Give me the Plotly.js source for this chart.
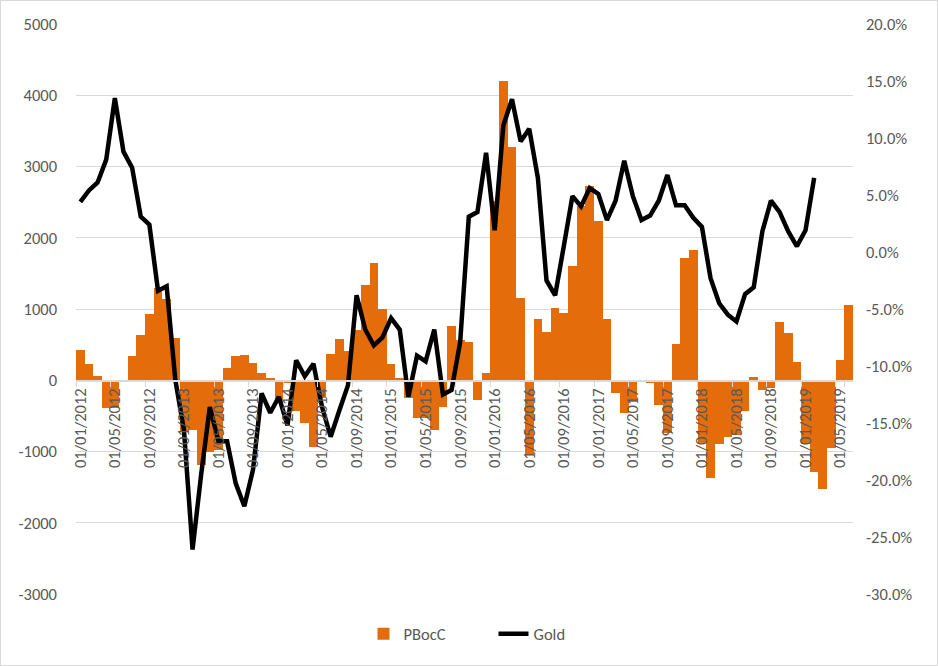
<!DOCTYPE html>
<html>
<head>
<meta charset="utf-8">
<script src="https://cdn.plot.ly/plotly-3.0.1.min.js"></script>
<style>
  html, body { margin: 0; padding: 0; background: #ffffff; }
  #wrap { position: relative; width: 938px; height: 666px; }
  #chart { width: 938px; height: 666px; }
  #frame { position: absolute; left: 0; top: 0; width: 936px; height: 664px; border: 1px solid #d9d9d9; pointer-events: none; }
</style>
</head>
<body>
<div id="wrap"><div id="chart"></div><div id="frame"></div></div>
<script>
const months = [
  "01/01/2012","01/02/2012","01/03/2012","01/04/2012","01/05/2012","01/06/2012","01/07/2012","01/08/2012","01/09/2012","01/10/2012","01/11/2012","01/12/2012",
  "01/01/2013","01/02/2013","01/03/2013","01/04/2013","01/05/2013","01/06/2013","01/07/2013","01/08/2013","01/09/2013","01/10/2013","01/11/2013","01/12/2013",
  "01/01/2014","01/02/2014","01/03/2014","01/04/2014","01/05/2014","01/06/2014","01/07/2014","01/08/2014","01/09/2014","01/10/2014","01/11/2014","01/12/2014",
  "01/01/2015","01/02/2015","01/03/2015","01/04/2015","01/05/2015","01/06/2015","01/07/2015","01/08/2015","01/09/2015","01/10/2015","01/11/2015","01/12/2015",
  "01/01/2016","01/02/2016","01/03/2016","01/04/2016","01/05/2016","01/06/2016","01/07/2016","01/08/2016","01/09/2016","01/10/2016","01/11/2016","01/12/2016",
  "01/01/2017","01/02/2017","01/03/2017","01/04/2017","01/05/2017","01/06/2017","01/07/2017","01/08/2017","01/09/2017","01/10/2017","01/11/2017","01/12/2017",
  "01/01/2018","01/02/2018","01/03/2018","01/04/2018","01/05/2018","01/06/2018","01/07/2018","01/08/2018","01/09/2018","01/10/2018","01/11/2018","01/12/2018",
  "01/01/2019","01/02/2019","01/03/2019","01/04/2019","01/05/2019","01/06/2019"
];

const pbocc = [
  430, 235, 55, -390, -390, 0, 345, 640, 935, 1295,
  1145, 600, -720, -700, -1190, -1000, -980, 175, 345, 360,
  245, 95, 35, -300, -40, -435, -600, -940, -250, 365,
  580, 410, 700, 1340, 1650, 1000, 225, 30, -250, -530,
  -530, -700, -370, 755, 565, 530, -280, 100, 2520, 4205,
  3280, 1160, -1050, 855, 675, 1010, 940, 1610, 2450, 2720,
  2230, 857, -185, -465, -310, 0, -40, -345, -745, 507,
  1718, 1831, -885, -1370, -890, -800, -770, -430, 40, -130,
  -105, 817, 667, 254, -900, -1285, -1520, -950, 282, 1056
];

const gold = [
  4.4, 5.4, 6.1, 8.1, 13.5, 8.8, 7.4, 3.1, 2.4, -3.4,
  -3.0, -11.2, -15.6, -26.1, -19.5, -13.6, -16.6, -16.6, -20.3, -22.3,
  -19.1, -12.4, -14.1, -12.7, -15.2, -9.5, -10.9, -9.8, -13.6, -16.2,
  -13.9, -11.7, -3.8, -6.8, -8.2, -7.5, -5.8, -6.8, -12.7, -9.1,
  -9.6, -6.8, -12.5, -12.1, -7.9, 3.1, 3.5, 8.7, 1.9, 11.1,
  13.4, 9.7, 10.8, 6.5, -2.5, -3.8, 0.5, 4.9, 4.0, 5.6,
  5.1, 2.8, 4.5, 8.0, 4.9, 2.8, 3.2, 4.5, 6.75, 4.1,
  4.1, 3.0, 2.2, -2.3, -4.5, -5.5, -6.1, -3.7, -3.1, 1.8,
  4.5, 3.5, 1.8, 0.5, 1.9, 6.5
];

const leftTicks = [-3000, -2000, -1000, 0, 1000, 2000, 3000, 4000, 5000];
const rightTicks = [-30, -25, -20, -15, -10, -5, 0, 5, 10, 15, 20];
const xTickLabels = months.filter((m, i) => i % 4 === 0);

const FONT = "Carlito, 'Liberation Sans', Arial, sans-serif";
const GREY = "#595959";

const traces = [
  {
    type: "bar",
    name: "PBocC",
    x: months,
    y: pbocc,
    marker: { color: "#E46C0A", line: { width: 0 } },
    yaxis: "y"
  },
  {
    type: "scatter",
    mode: "lines",
    name: "Gold",
    x: months.slice(0, gold.length),
    y: gold,
    line: { color: "#000000", width: 4.5 },
    yaxis: "y2"
  }
];

const layout = {
  width: 938,
  height: 666,
  margin: { l: 76, r: 85, t: 24, b: 72 },
  paper_bgcolor: "#ffffff",
  plot_bgcolor: "#ffffff",
  font: { family: FONT, size: 16.5, color: GREY },
  bargap: 0,
  showlegend: true,
  legend: {
    orientation: "h",
    x: 0.370, xanchor: "left",
    y: -0.07, yanchor: "middle",
    font: { family: FONT, size: 16.5, color: GREY },
    itemwidth: 30,
    entrywidth: 85,
    tracegroupgap: 0
  },
  xaxis: {
    type: "category",
    categoryorder: "array",
    categoryarray: months,
    anchor: "free",
    position: 0.375,
    tickmode: "array",
    tickvals: xTickLabels,
    ticktext: xTickLabels,
    tickson: "boundaries",
    ticks: "outside",
    ticklen: 5,
    tickcolor: "#d9d9d9",
    tickwidth: 1,
    tickangle: -90,
    tickfont: { family: FONT, size: 16.5, color: GREY },
    showline: true,
    linecolor: "#d9d9d9",
    linewidth: 1.5,
    showgrid: false,
    zeroline: false
  },
  yaxis: {
    range: [-3000, 5000],
    tickmode: "array",
    tickvals: leftTicks,
    ticktext: leftTicks.map(v => String(v)),
    showgrid: true,
    gridcolor: "#d9d9d9",
    gridwidth: 1,
    zeroline: false,
    showline: false,
    ticks: "",
    ticklabelstandoff: 18,
    tickfont: { family: FONT, size: 16.5, color: GREY }
  },
  yaxis2: {
    overlaying: "y",
    side: "right",
    range: [-30, 20],
    tickmode: "array",
    tickvals: rightTicks,
    ticktext: rightTicks.map(v => v.toFixed(1) + "%"),
    showgrid: false,
    zeroline: false,
    showline: false,
    ticks: "",
    ticklabelstandoff: 12,
    tickfont: { family: FONT, size: 16.5, color: GREY }
  }
};

Plotly.newPlot("chart", traces, layout, { staticPlot: true, displayModeBar: false });
</script>
</body>
</html>
